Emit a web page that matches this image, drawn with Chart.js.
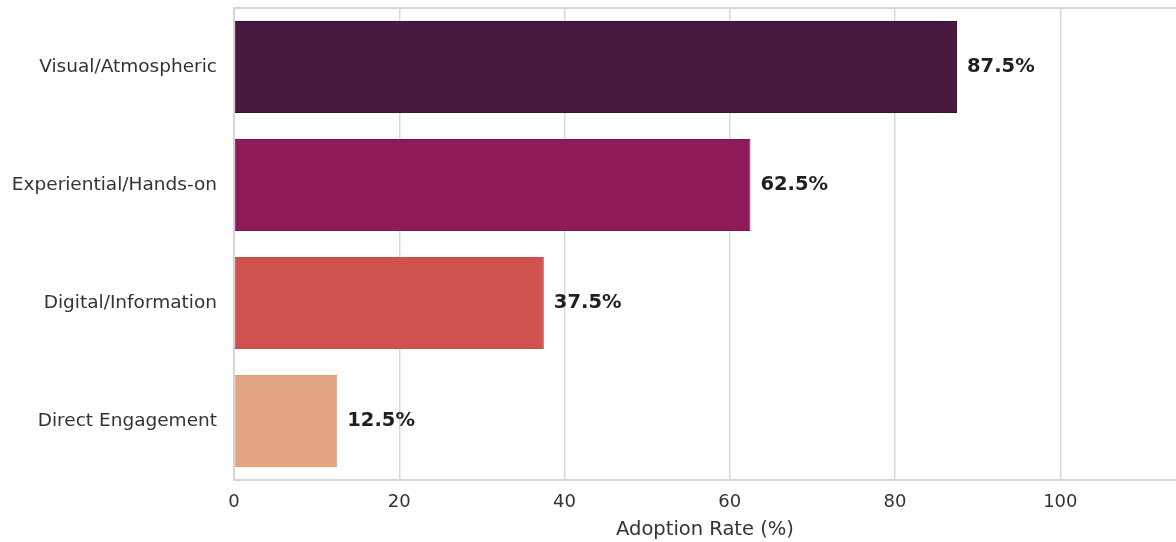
<!DOCTYPE html>
<html>
<head>
<meta charset="utf-8">
<script src="https://cdn.jsdelivr.net/npm/chart.js@4.4.0/dist/chart.umd.min.js"></script>
<style>
  html, body { margin: 0; padding: 0; background: #fff; overflow: hidden; }
  #wrap { position: relative; width: 1176px; height: 542px; }
</style>
</head>
<body>
<div id="wrap"><canvas id="adoption-chart"></canvas></div>
<script>
const categories = ['Visual/Atmospheric', 'Experiential/Hands-on', 'Digital/Information', 'Direct Engagement'];
const adoptionRates = [87.5, 62.5, 37.5, 12.5];
const barColors = ['#4a1942', '#8e1a5a', '#d0524f', '#e2a582'];
const barEdges = ['#3a1334', '#7e1750', '#c84d4a', '#dea07d'];
const xTicks = [0, 20, 40, 60, 80, 100];

const font = "'DejaVu Sans', sans-serif";

// value labels at the end of each bar
const valueLabels = {
    id: 'valueLabels',
    afterDatasetsDraw(chart) {
        const ctx = chart.ctx;
        const meta = chart.getDatasetMeta(0);
        ctx.save();
        ctx.font = 'bold 19.5px ' + font;
        ctx.fillStyle = '#1f1f1f';
        ctx.textAlign = 'left';
        ctx.textBaseline = 'middle';
        meta.data.forEach((bar, i) => {
            ctx.fillText(adoptionRates[i].toFixed(1) + '%', bar.x + 10, bar.y);
        });
        ctx.restore();
    }
};

// top frame line (seaborn whitegrid spine)
const topSpine = {
    id: 'topSpine',
    beforeDatasetsDraw(chart) {
        const { ctx, chartArea } = chart;
        ctx.save();
        ctx.strokeStyle = '#d6d6d6';
        ctx.lineWidth = 2;
        ctx.beginPath();
        ctx.moveTo(chartArea.left - 1, chartArea.top);
        ctx.lineTo(chartArea.right, chartArea.top);
        ctx.stroke();
        ctx.restore();
    }
};

new Chart(document.getElementById('adoption-chart').getContext('2d'), {
    type: 'bar',
    data: {
        labels: categories,
        datasets: [{
            label: 'Adoption Rate (%)',
            data: adoptionRates,
            backgroundColor: barColors,
            borderColor: barEdges,
            borderWidth: 1,
            borderSkipped: false,
            barPercentage: 0.78,
            categoryPercentage: 1.0
        }]
    },
    options: {
        indexAxis: 'y',
        responsive: true,
        maintainAspectRatio: false,
        animation: false,
        layout: { padding: { top: 8, right: 0, bottom: 0, left: 0 } },
        plugins: {
            legend: { display: false },
            tooltip: { enabled: false }
        },
        scales: {
            x: {
                min: 0,
                max: 114,
                afterBuildTicks: (scale) => {
                    scale.ticks = xTicks.map((v) => ({ value: v }));
                },
                grid: { color: '#d9d9d9', lineWidth: 1.5, drawTicks: false },
                border: { color: '#d6d6d6', width: 2 },
                ticks: {
                    padding: 12,
                    color: '#333333',
                    font: { family: font, size: 18 }
                },
                title: {
                    display: true,
                    text: 'Adoption Rate (%)',
                    color: '#333333',
                    font: { family: font, size: 19.5 },
                    padding: { top: 2, bottom: 0 }
                },
                afterFit: (scale) => {
                    scale.height = 62;
                    scale.paddingLeft = 0;
                    scale.paddingRight = 0;
                }
            },
            y: {
                grid: { display: false, drawTicks: false },
                border: { color: '#d6d6d6', width: 2 },
                ticks: {
                    padding: 17,
                    color: '#333333',
                    font: { family: font, size: 18.5 }
                },
                afterFit: (scale) => {
                    scale.width = 234;
                    scale.paddingTop = 0;
                    scale.paddingBottom = 0;
                }
            }
        }
    },
    plugins: [valueLabels, topSpine]
});
</script>
</body>
</html>
